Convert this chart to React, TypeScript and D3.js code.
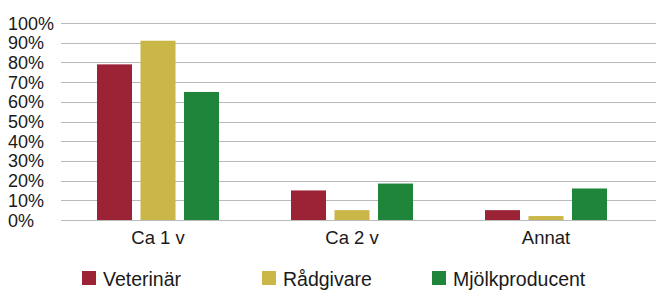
import React from "react";
import * as d3 from "d3";

const categories = ["Ca 1 v", "Ca 2 v", "Annat"];
const seriesNames = ["Veterinär", "Rådgivare", "Mjölkproducent"];
const veterinar = [79, 15, 5];
const radgivare = [91, 5, 2];
const mjolkproducent = [65, 18.5, 16];
const yTicks = [0, 10, 20, 30, 40, 50, 60, 70, 80, 90, 100];
const colors = ["#9c2236", "#cbb748", "#1f853b"];

const seriesValues = [veterinar, radgivare, mjolkproducent];

const WIDTH = 656;
const HEIGHT = 290;
const FONT = "'Liberation Sans', Arial, Helvetica, sans-serif";

// legend item left edges
const legendX = [82, 262, 432];

const App = () => {
  const y = d3.scaleLinear().domain([0, 100]).range([220, 23]);
  const x = d3.scaleBand().domain(categories).range([61, 643]);
  const inner = d3
    .scaleBand()
    .domain(seriesNames)
    .range([-61, 61])
    .paddingInner(0.195);

  return (
    <svg
      width={WIDTH}
      height={HEIGHT}
      style={{ position: "absolute", left: 0, top: 0, background: "#fff" }}
      fontFamily={FONT}
    >
      <g>
        {yTicks.map((t) => (
          <line
            key={t}
            x1={61}
            x2={WIDTH}
            y1={Math.round(y(t)) + 0.5}
            y2={Math.round(y(t)) + 0.5}
            stroke="#b9b9b9"
            strokeWidth={1}
          />
        ))}
      </g>
      <g fontSize={18} fill="#1a1a1a">
        {yTicks.map((t) => (
          <text key={t} x={8} y={y(t) + 6.5}>
            {t}%
          </text>
        ))}
      </g>
      <g>
        {categories.map((c, ci) => {
          const cx = (x(c) ?? 0) + x.bandwidth() / 2;
          return seriesNames.map((s, si) => {
            const v = seriesValues[si][ci];
            return (
              <rect
                key={`${c}-${s}`}
                x={cx + (inner(s) ?? 0)}
                y={y(v)}
                width={inner.bandwidth()}
                height={y(0) - y(v)}
                fill={colors[si]}
              />
            );
          });
        })}
      </g>
      <g fontSize={18.5} fill="#1a1a1a" textAnchor="middle">
        {categories.map((c) => (
          <text key={c} x={(x(c) ?? 0) + x.bandwidth() / 2} y={243.5}>
            {c}
          </text>
        ))}
      </g>
      <g fontSize={19.5} fill="#1a1a1a">
        {seriesNames.map((s, i) => (
          <g key={s} transform={`translate(${legendX[i]},0)`}>
            <rect x={0} y={271} width={14} height={14} fill={colors[i]} />
            <text x={21} y={286}>
              {s}
            </text>
          </g>
        ))}
      </g>
    </svg>
  );
};

export default App;
